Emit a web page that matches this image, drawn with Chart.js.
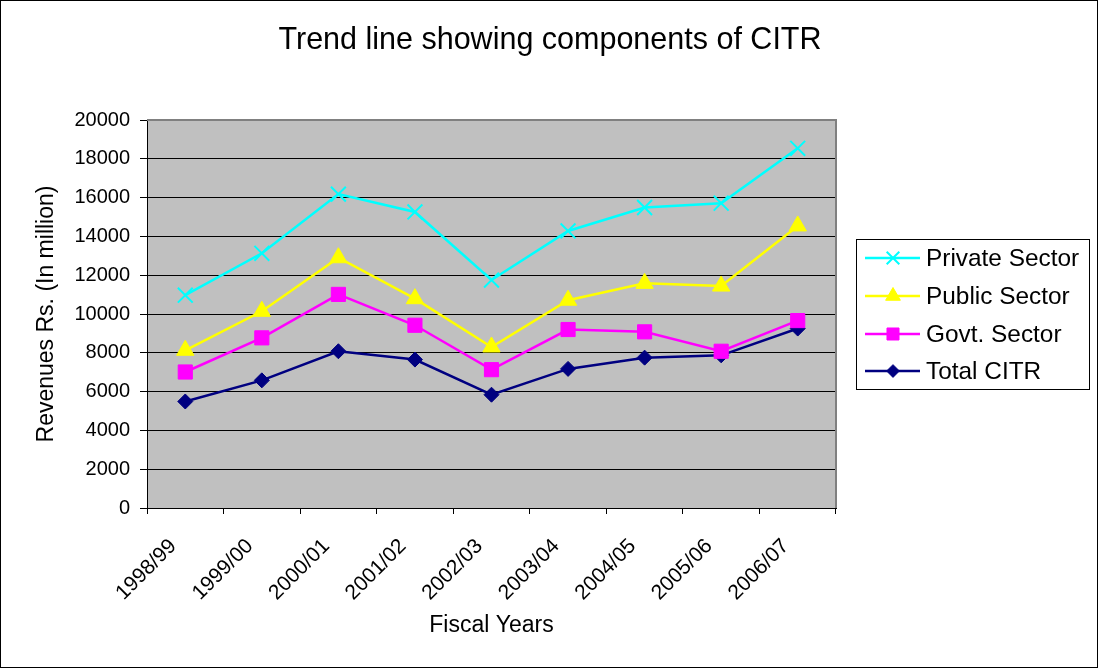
<!DOCTYPE html>
<html>
<head>
<meta charset="utf-8">
<title>Trend line showing components of CITR</title>
<script src="https://cdn.jsdelivr.net/npm/chart.js@4/dist/chart.umd.min.js"></script>
<style>
  html, body { margin: 0; padding: 0; background: #fff; }
  canvas { display: block; }
</style>
</head>
<body>
<canvas id="chart" width="1098" height="668"></canvas>
<script>
// Fiscal years on the category axis
const fiscalYears = ['1998/99', '1999/00', '2000/01', '2001/02', '2002/03', '2003/04', '2004/05', '2005/06', '2006/07'];

// Revenues, Rs. million
const privateSector = [10970, 13130, 16180, 15260, 11750, 14280, 15490, 15710, 18540];
const publicSector  = [8130, 10140, 12900, 10790, 8300, 10710, 11580, 11440, 14540];
const govtSector    = [7010, 8770, 11010, 9420, 7130, 9200, 9080, 8080, 9660];
const totalCITR     = [5490, 6580, 8080, 7650, 5840, 7170, 7750, 7870, 9250];

// Value axis range and step
const yMin = 0;
const yMax = 20000;
const yStep = 2000;

const chartTitle = 'Trend line showing components of CITR';
const xTitle = 'Fiscal Years';
const yTitle = 'Revenues Rs. (In million)';

const FONT = '"Liberation Sans", Arial, Helvetica, sans-serif';

const series = [
  { label: 'Private Sector', data: privateSector, color: '#00FFFF', style: 'crossRot', radius: 10.5, fill: false },
  { label: 'Public Sector',  data: publicSector,  color: '#FFFF00', style: 'triangle', radius: 10,   fill: true },
  { label: 'Govt. Sector',   data: govtSector,    color: '#FF00FF', style: 'rect',     radius: 10,   fill: true },
  { label: 'Total CITR',     data: totalCITR,     color: '#000080', style: 'rectRot',  radius: 7.5,  fill: true }
];

// Frame, plot background, title and boxed legend
const decorations = {
  id: 'decorations',
  beforeDraw(chart) {
    const { ctx, chartArea: a } = chart;
    ctx.save();
    ctx.fillStyle = '#FFFFFF';
    ctx.fillRect(0, 0, chart.width, chart.height);
    ctx.fillStyle = '#C0C0C0';
    ctx.fillRect(a.left, a.top, a.right - a.left, a.bottom - a.top);
    ctx.restore();
  },
  beforeDatasetsDraw(chart) {
    const { ctx, chartArea: a } = chart;
    ctx.save();
    ctx.strokeStyle = '#808080';
    ctx.lineWidth = 2;
    ctx.beginPath();
    ctx.moveTo(a.left, a.top);
    ctx.lineTo(a.right, a.top);
    ctx.lineTo(a.right, a.bottom);
    ctx.stroke();
    ctx.restore();
  },
  afterDraw(chart) {
    const { ctx } = chart;
    ctx.save();
    // outer frame
    ctx.strokeStyle = '#000000';
    ctx.lineWidth = 1;
    ctx.strokeRect(0.5, 0.5, chart.width - 1, chart.height - 1);

    // title
    ctx.fillStyle = '#000000';
    ctx.font = '30.5px ' + FONT;
    ctx.textAlign = 'center';
    ctx.textBaseline = 'middle';
    ctx.fillText(chartTitle, 550, 41);

    // legend box
    const lx = 856, ly = 239, lw = 233, lh = 150;
    ctx.fillStyle = '#FFFFFF';
    ctx.fillRect(lx, ly, lw, lh);
    ctx.strokeStyle = '#000000';
    ctx.lineWidth = 1;
    ctx.strokeRect(lx + 0.5, ly + 0.5, lw, lh);

    const rowY = [258, 296, 334, 371];
    series.forEach((s, i) => {
      const y = rowY[i];
      ctx.save();
      ctx.strokeStyle = s.color;
      ctx.lineWidth = 2.5;
      ctx.beginPath();
      ctx.moveTo(865, y);
      ctx.lineTo(920, y);
      ctx.stroke();
      ctx.fillStyle = s.color;
      ctx.strokeStyle = s.color;
      ctx.lineWidth = s.fill ? 1 : 2;
      Chart.helpers.drawPoint(ctx, {
        pointStyle: s.style,
        radius: s.radius * 0.85,
        rotation: 0,
        borderWidth: s.fill ? 1 : 2
      }, 893, y);
      ctx.fillStyle = '#000000';
      ctx.font = '24.4px ' + FONT;
      ctx.textAlign = 'left';
      ctx.textBaseline = 'middle';
      ctx.fillText(s.label, 926, y + 1);
      ctx.restore();
    });
    ctx.restore();
  }
};

new Chart(document.getElementById('chart'), {
  type: 'line',
  data: {
    labels: fiscalYears,
    datasets: series.map(s => ({
      label: s.label,
      data: s.data,
      borderColor: s.color,
      backgroundColor: s.color,
      borderWidth: 2.5,
      pointStyle: s.style,
      pointRadius: s.radius,
      pointHoverRadius: s.radius,
      pointBorderWidth: s.fill ? 1 : 2,
      pointBackgroundColor: s.color,
      pointBorderColor: s.color,
      tension: 0,
      fill: false
    }))
  },
  options: {
    responsive: false,
    animation: false,
    events: [],
    layout: { padding: { top: 120, right: 262, left: 0, bottom: 0 } },
    plugins: {
      legend: { display: false },
      title: { display: false },
      tooltip: { enabled: false }
    },
    scales: {
      x: {
        type: 'category',
        offset: true,
        afterFit(scale) { scale.height = 160; },
        grid: {
          offset: true,
          drawOnChartArea: false,
          drawTicks: true,
          tickLength: 6,
          color: '#000000'
        },
        border: { display: true, color: '#000000', width: 1 },
        ticks: {
          autoSkip: false,
          minRotation: 45,
          maxRotation: 45,
          padding: 20,
          labelOffset: -12,
          color: '#000000',
          font: { family: FONT, size: 21 }
        },
        title: {
          display: true,
          text: xTitle,
          color: '#000000',
          font: { family: FONT, size: 23 },
          padding: { top: 0, bottom: 29 }
        }
      },
      y: {
        min: yMin,
        max: yMax,
        afterFit(scale) { scale.width = 147; },
        grid: {
          color: '#000000',
          lineWidth: 1,
          tickLength: 7,
          drawTicks: true
        },
        border: { display: true, color: '#000000', width: 1 },
        ticks: {
          stepSize: yStep,
          padding: 10,
          color: '#000000',
          font: { family: FONT, size: 20 },
          callback: v => String(v)
        },
        title: {
          display: true,
          text: yTitle,
          color: '#000000',
          font: { family: FONT, size: 23 },
          padding: { top: 33, bottom: 0 }
        }
      }
    }
  },
  plugins: [decorations]
});
</script>
</body>
</html>
